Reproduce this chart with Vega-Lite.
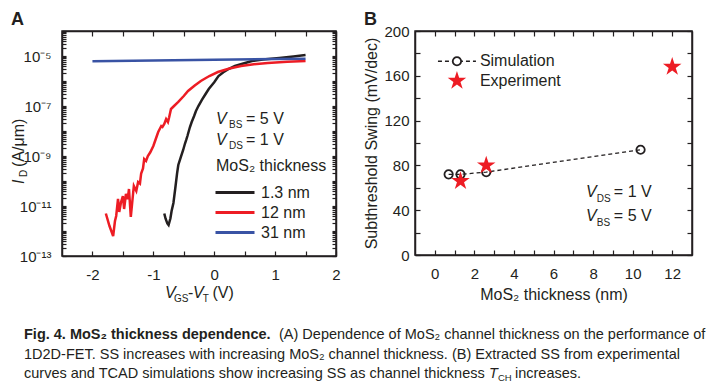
{
  "$schema": "https://vega.github.io/schema/vega-lite/v6.json",
  "padding": {"left": 10, "top": 10, "right": 0, "bottom": 0},
  "background": "white",
  "spacing": 22,
  "config": {
    "font": "Liberation Sans",
    "view": {"stroke": null},
    "axis": {"domain": true, "ticks": true, "domainColor": "#231f20", "domainWidth": 1.5, "tickColor": "#231f20", "tickWidth": 1.2, "labelColor": "#231f20", "labelFontSize": 15, "titleFontSize": 16, "titleFontWeight": "normal", "titleColor": "#231f20", "grid": false},
    "title": {"fontSize": 18, "fontWeight": "bold", "anchor": "start", "color": "#231f20", "offset": -5}
  },
  "vconcat": [
    {
      "spacing": 22,
      "hconcat": [
        {
          "title": {"text": "A"},
          "width": 274,
          "height": 225,
          "view": {"stroke": "#231f20", "strokeWidth": 1.5},
          "resolve": {"axis": {"x": "independent", "y": "independent"}},
          "layer": [
            {
              "data": {"values": [
                {"thick": "1.3 nm", "v": -0.82, "id": 5.01e-12},
                {"thick": "1.3 nm", "v": -0.8, "id": 3.16e-12},
                {"thick": "1.3 nm", "v": -0.77, "id": 2.0e-12},
                {"thick": "1.3 nm", "v": -0.75, "id": 1.74e-12},
                {"thick": "1.3 nm", "v": -0.72, "id": 3.16e-12},
                {"thick": "1.3 nm", "v": -0.7, "id": 6.31e-12},
                {"thick": "1.3 nm", "v": -0.67, "id": 1.32e-11},
                {"thick": "1.3 nm", "v": -0.64, "id": 5.01e-11},
                {"thick": "1.3 nm", "v": -0.61, "id": 2.0e-10},
                {"thick": "1.3 nm", "v": -0.59, "id": 4.37e-10},
                {"thick": "1.3 nm", "v": -0.55, "id": 8.91e-10},
                {"thick": "1.3 nm", "v": -0.51, "id": 1.74e-9},
                {"thick": "1.3 nm", "v": -0.48, "id": 3.16e-9},
                {"thick": "1.3 nm", "v": -0.46, "id": 4.37e-9},
                {"thick": "1.3 nm", "v": -0.44, "id": 6.31e-9},
                {"thick": "1.3 nm", "v": -0.4, "id": 1.41e-8},
                {"thick": "1.3 nm", "v": -0.37, "id": 2.29e-8},
                {"thick": "1.3 nm", "v": -0.33, "id": 3.98e-8},
                {"thick": "1.3 nm", "v": -0.3, "id": 6.31e-8},
                {"thick": "1.3 nm", "v": -0.26, "id": 1.0e-7},
                {"thick": "1.3 nm", "v": -0.2, "id": 1.78e-7},
                {"thick": "1.3 nm", "v": -0.15, "id": 2.82e-7},
                {"thick": "1.3 nm", "v": -0.09, "id": 4.79e-7},
                {"thick": "1.3 nm", "v": 0.0, "id": 8.91e-7},
                {"thick": "1.3 nm", "v": 0.07, "id": 1.58e-6},
                {"thick": "1.3 nm", "v": 0.15, "id": 2.24e-6},
                {"thick": "1.3 nm", "v": 0.25, "id": 3.16e-6},
                {"thick": "1.3 nm", "v": 0.34, "id": 3.98e-6},
                {"thick": "1.3 nm", "v": 0.45, "id": 4.79e-6},
                {"thick": "1.3 nm", "v": 0.62, "id": 6.31e-6},
                {"thick": "1.3 nm", "v": 0.8, "id": 7.24e-6},
                {"thick": "1.3 nm", "v": 1.07, "id": 8.32e-6},
                {"thick": "1.3 nm", "v": 1.3, "id": 9.55e-6},
                {"thick": "1.3 nm", "v": 1.5, "id": 1.1e-5},
                {"thick": "12 nm", "v": -1.78, "id": 5.01e-12},
                {"thick": "12 nm", "v": -1.72, "id": 1.58e-12},
                {"thick": "12 nm", "v": -1.66, "id": 6.31e-13},
                {"thick": "12 nm", "v": -1.63, "id": 2.51e-12},
                {"thick": "12 nm", "v": -1.61, "id": 3.98e-12},
                {"thick": "12 nm", "v": -1.58, "id": 1.91e-11},
                {"thick": "12 nm", "v": -1.56, "id": 5.75e-12},
                {"thick": "12 nm", "v": -1.53, "id": 1.45e-11},
                {"thick": "12 nm", "v": -1.5, "id": 2.51e-11},
                {"thick": "12 nm", "v": -1.48, "id": 7.59e-12},
                {"thick": "12 nm", "v": -1.45, "id": 3.02e-11},
                {"thick": "12 nm", "v": -1.42, "id": 1.91e-11},
                {"thick": "12 nm", "v": -1.4, "id": 4.79e-11},
                {"thick": "12 nm", "v": -1.37, "id": 3.63e-12},
                {"thick": "12 nm", "v": -1.33, "id": 3.63e-11},
                {"thick": "12 nm", "v": -1.32, "id": 6.31e-11},
                {"thick": "12 nm", "v": -1.28, "id": 3.98e-11},
                {"thick": "12 nm", "v": -1.25, "id": 9.12e-11},
                {"thick": "12 nm", "v": -1.22, "id": 7.94e-11},
                {"thick": "12 nm", "v": -1.2, "id": 2.0e-10},
                {"thick": "12 nm", "v": -1.17, "id": 3.16e-10},
                {"thick": "12 nm", "v": -1.15, "id": 7.59e-10},
                {"thick": "12 nm", "v": -1.12, "id": 6.31e-10},
                {"thick": "12 nm", "v": -1.09, "id": 1.0e-9},
                {"thick": "12 nm", "v": -1.05, "id": 1.41e-9},
                {"thick": "12 nm", "v": -1.0, "id": 2.51e-9},
                {"thick": "12 nm", "v": -0.96, "id": 4.79e-9},
                {"thick": "12 nm", "v": -0.92, "id": 9.12e-9},
                {"thick": "12 nm", "v": -0.87, "id": 1.58e-8},
                {"thick": "12 nm", "v": -0.85, "id": 1.45e-8},
                {"thick": "12 nm", "v": -0.82, "id": 1.91e-8},
                {"thick": "12 nm", "v": -0.79, "id": 3.02e-8},
                {"thick": "12 nm", "v": -0.76, "id": 2.29e-8},
                {"thick": "12 nm", "v": -0.74, "id": 3.55e-8},
                {"thick": "12 nm", "v": -0.71, "id": 7.59e-8},
                {"thick": "12 nm", "v": -0.66, "id": 1.0e-7},
                {"thick": "12 nm", "v": -0.59, "id": 1.45e-7},
                {"thick": "12 nm", "v": -0.5, "id": 2.51e-7},
                {"thick": "12 nm", "v": -0.43, "id": 3.98e-7},
                {"thick": "12 nm", "v": -0.32, "id": 6.61e-7},
                {"thick": "12 nm", "v": -0.22, "id": 1.0e-6},
                {"thick": "12 nm", "v": -0.08, "id": 1.58e-6},
                {"thick": "12 nm", "v": 0.06, "id": 2.29e-6},
                {"thick": "12 nm", "v": 0.25, "id": 3.16e-6},
                {"thick": "12 nm", "v": 0.44, "id": 3.98e-6},
                {"thick": "12 nm", "v": 0.65, "id": 4.68e-6},
                {"thick": "12 nm", "v": 0.88, "id": 5.25e-6},
                {"thick": "12 nm", "v": 1.2, "id": 5.89e-6},
                {"thick": "12 nm", "v": 1.5, "id": 6.31e-6},
                {"thick": "31 nm", "v": -2.0, "id": 6.17e-6},
                {"thick": "31 nm", "v": -1.0, "id": 6.61e-6},
                {"thick": "31 nm", "v": 0.0, "id": 7.08e-6},
                {"thick": "31 nm", "v": 1.0, "id": 7.59e-6},
                {"thick": "31 nm", "v": 1.5, "id": 7.76e-6}
              ]},
              "mark": {"type": "line", "strokeWidth": 2.5},
              "encoding": {
                "x": {"field": "v", "type": "quantitative", "scale": {"domain": [-2.5, 2], "nice": false, "zero": false},
                  "axis": {"orient": "bottom", "title": null, "values": [-2, -1.5, -1, -0.5, 0, 0.5, 1, 1.5, 2], "labelExpr": "datum.value % 1 == 0 ? (datum.value < 0 ? '-' : '') + format(abs(datum.value), 'd') : ''", "tickSize": -5, "labelPadding": 16, "labelFlush": false, "labelOverlap": false}},
                "y": {"field": "id", "type": "quantitative", "scale": {"type": "log", "domain": [1e-13, 1e-4], "nice": false},
                  "axis": {"orient": "left", "title": null,
                    "values": [1e-13,2e-13,3e-13,4e-13,5e-13,6e-13,7e-13,8e-13,9e-13,1e-12,2e-12,3e-12,4e-12,5e-12,6e-12,7e-12,8e-12,9e-12,1e-11,2e-11,3e-11,4e-11,5e-11,6e-11,7e-11,8e-11,9e-11,1e-10,2e-10,3e-10,4e-10,5e-10,6e-10,7e-10,8e-10,9e-10,1e-9,2e-9,3e-9,4e-9,5e-9,6e-9,7e-9,8e-9,9e-9,1e-8,2e-8,3e-8,4e-8,5e-8,6e-8,7e-8,8e-8,9e-8,1e-7,2e-7,3e-7,4e-7,5e-7,6e-7,7e-7,8e-7,9e-7,1e-6,2e-6,3e-6,4e-6,5e-6,6e-6,7e-6,8e-6,9e-6,1e-5,2e-5,3e-5,4e-5,5e-5,6e-5,7e-5,8e-5,9e-5,1e-4],
                    "labelExpr": "abs(log(datum.value)/LN10 - round(log(datum.value)/LN10)) > 0.001 ? '' : round(log(datum.value)/LN10) == -5 ? '10⁻⁵' : round(log(datum.value)/LN10) == -7 ? '10⁻⁷' : round(log(datum.value)/LN10) == -9 ? '10⁻⁹' : round(log(datum.value)/LN10) == -11 ? '10⁻¹¹' : round(log(datum.value)/LN10) == -13 ? '10⁻¹³' : ''",
                    "tickSize": -4, "labelPadding": 15, "labelOverlap": false}},
                "color": {"field": "thick", "type": "nominal",
                  "scale": {"domain": ["1.3 nm", "12 nm", "31 nm"], "range": ["#231f20", "#ed1c24", "#3953a4"]},
                  "legend": {"orient": "none", "legendX": 171, "legendY": 150, "title": null, "labelFontSize": 16, "labelColor": "#231f20", "symbolType": "M-2.9,0H1", "symbolSize": 400, "symbolStrokeWidth": 3, "rowPadding": 0, "labelOffset": 5, "padding": 0}}
              }
            },
            {
              "data": {"values": [
                {"px": 0.03, "py": 1.91e-8, "txt": "V"},
                {"px": 0.03, "py": 2.75e-9, "txt": "V"},
                {"px": -0.808, "py": 2.09e-15, "txt": "V"},
                {"px": -0.35, "py": 2.09e-15, "txt": "V"}
              ]},
              "mark": {"type": "text", "fontStyle": "italic", "fontSize": 16, "align": "left", "baseline": "alphabetic", "color": "#231f20"},
              "encoding": {
                "x": {"field": "px", "type": "quantitative", "scale": {"domain": [-2.5, 2], "nice": false, "zero": false},
                  "axis": {"orient": "top", "title": null, "values": [-2, -1.5, -1, -0.5, 0, 0.5, 1, 1.5, 2], "labels": false, "tickSize": -5}},
                "y": {"field": "py", "type": "quantitative", "scale": {"type": "log", "domain": [1e-13, 1e-4], "nice": false},
                  "axis": {"orient": "right", "title": null, "labels": false,
                    "values": [1e-13,2e-13,3e-13,4e-13,5e-13,6e-13,7e-13,8e-13,9e-13,1e-12,2e-12,3e-12,4e-12,5e-12,6e-12,7e-12,8e-12,9e-12,1e-11,2e-11,3e-11,4e-11,5e-11,6e-11,7e-11,8e-11,9e-11,1e-10,2e-10,3e-10,4e-10,5e-10,6e-10,7e-10,8e-10,9e-10,1e-9,2e-9,3e-9,4e-9,5e-9,6e-9,7e-9,8e-9,9e-9,1e-8,2e-8,3e-8,4e-8,5e-8,6e-8,7e-8,8e-8,9e-8,1e-7,2e-7,3e-7,4e-7,5e-7,6e-7,7e-7,8e-7,9e-7,1e-6,2e-6,3e-6,4e-6,5e-6,6e-6,7e-6,8e-6,9e-6,1e-5,2e-5,3e-5,4e-5,5e-5,6e-5,7e-5,8e-5,9e-5,1e-4],
                    "tickSize": -4}},
                "text": {"field": "txt", "type": "nominal"}
              }
            },
            {
              "data": {"values": [
                {"px": 0.243, "py": 1.32e-8, "txt": "BS"},
                {"px": 0.243, "py": 1.91e-9, "txt": "DS"},
                {"px": -0.661, "py": 1.45e-15, "txt": "GS"},
                {"px": -0.19, "py": 1.45e-15, "txt": "T"}
              ]},
              "mark": {"type": "text", "fontSize": 10, "align": "left", "baseline": "alphabetic", "color": "#231f20"},
              "encoding": {
                "x": {"field": "px", "type": "quantitative", "scale": {"domain": [-2.5, 2], "nice": false, "zero": false}, "axis": null},
                "y": {"field": "py", "type": "quantitative", "scale": {"type": "log", "domain": [1e-13, 1e-4], "nice": false}, "axis": null},
                "text": {"field": "txt", "type": "nominal"}
              }
            },
            {
              "data": {"values": [
                {"px": 0.522, "py": 1.91e-8, "txt": "= 5 V"},
                {"px": 0.522, "py": 2.75e-9, "txt": "= 1 V"},
                {"px": 0.029, "py": 2.51e-10, "txt": "MoS₂ thickness"},
                {"px": -0.43, "py": 2.09e-15, "txt": "-"},
                {"px": -0.03, "py": 2.09e-15, "txt": "(V)"}
              ]},
              "mark": {"type": "text", "fontSize": 16, "align": "left", "baseline": "alphabetic", "color": "#231f20"},
              "encoding": {
                "x": {"field": "px", "type": "quantitative", "scale": {"domain": [-2.5, 2], "nice": false, "zero": false}, "axis": null},
                "y": {"field": "py", "type": "quantitative", "scale": {"type": "log", "domain": [1e-13, 1e-4], "nice": false}, "axis": null},
                "text": {"field": "txt", "type": "nominal"}
              }
            },
            {
              "data": {"values": [{"px": -3.124, "py": 7.59e-11, "txt": "I"}]},
              "mark": {"type": "text", "fontSize": 16, "fontStyle": "italic", "angle": 270, "align": "left", "baseline": "alphabetic", "color": "#231f20"},
              "encoding": {
                "x": {"field": "px", "type": "quantitative", "scale": {"domain": [-2.5, 2], "nice": false, "zero": false}, "axis": null},
                "y": {"field": "py", "type": "quantitative", "scale": {"type": "log", "domain": [1e-13, 1e-4], "nice": false}, "axis": null},
                "text": {"field": "txt", "type": "nominal"}
              }
            },
            {
              "data": {"values": [{"px": -3.075, "py": 1.45e-10, "txt": "D"}]},
              "mark": {"type": "text", "fontSize": 10, "angle": 270, "align": "left", "baseline": "alphabetic", "color": "#231f20"},
              "encoding": {
                "x": {"field": "px", "type": "quantitative", "scale": {"domain": [-2.5, 2], "nice": false, "zero": false}, "axis": null},
                "y": {"field": "py", "type": "quantitative", "scale": {"type": "log", "domain": [1e-13, 1e-4], "nice": false}, "axis": null},
                "text": {"field": "txt", "type": "nominal"}
              }
            },
            {
              "data": {"values": [{"px": -3.124, "py": 3.63e-10, "txt": "(A/μm)"}]},
              "mark": {"type": "text", "fontSize": 16, "angle": 270, "align": "left", "baseline": "alphabetic", "color": "#231f20"},
              "encoding": {
                "x": {"field": "px", "type": "quantitative", "scale": {"domain": [-2.5, 2], "nice": false, "zero": false}, "axis": null},
                "y": {"field": "py", "type": "quantitative", "scale": {"type": "log", "domain": [1e-13, 1e-4], "nice": false}, "axis": null},
                "text": {"field": "txt", "type": "nominal"}
              }
            }
          ]
        },
        {
          "title": {"text": "B"},
          "width": 277,
          "height": 224,
          "view": {"stroke": "#231f20", "strokeWidth": 1.5},
          "resolve": {"axis": {"x": "independent", "y": "independent"}},
          "layer": [
            {
              "data": {"values": [
                {"t": 0.7, "ss": 72}, {"t": 1.3, "ss": 72}, {"t": 2.6, "ss": 74}, {"t": 10.4, "ss": 94}
              ]},
              "mark": {"type": "line", "strokeDash": [4, 3], "strokeWidth": 1.3, "color": "#231f20"},
              "encoding": {
                "x": {"field": "t", "type": "quantitative", "scale": {"domain": [-1, 13], "nice": false, "zero": false},
                  "axis": {"orient": "bottom", "title": "MoS₂ thickness (nm)", "titlePadding": 5, "values": [0,1,2,3,4,5,6,7,8,9,10,11,12], "labelExpr": "datum.value % 2 == 0 ? datum.label : ''", "tickSize": -5, "labelPadding": 16, "labelFlush": false, "labelOverlap": false}},
                "y": {"field": "ss", "type": "quantitative", "scale": {"domain": [0, 200], "nice": false},
                  "axis": {"orient": "left", "title": "Subthreshold Swing (mV/dec)", "titlePadding": 4, "values": [0,20,40,60,80,100,120,140,160,180,200], "labelExpr": "datum.value % 40 == 0 ? datum.label : ''", "tickSize": -5, "labelPadding": 11, "labelOverlap": false}}
              }
            },
            {
              "data": {"values": [
                {"t": 0.7, "ss": 72}, {"t": 1.3, "ss": 72}, {"t": 2.6, "ss": 74}, {"t": 10.4, "ss": 94}
              ]},
              "mark": {"type": "point", "filled": false, "size": 70, "strokeWidth": 1.8, "color": "#231f20", "opacity": 1},
              "encoding": {
                "x": {"field": "t", "type": "quantitative", "scale": {"domain": [-1, 13], "nice": false, "zero": false},
                  "axis": {"orient": "top", "title": null, "labels": false, "values": [0,1,2,3,4,5,6,7,8,9,10,11,12], "tickSize": -5}},
                "y": {"field": "ss", "type": "quantitative", "scale": {"domain": [0, 200], "nice": false},
                  "axis": {"orient": "right", "title": null, "labels": false, "values": [0,20,40,60,80,100,120,140,160,180,200], "tickSize": -5}}
              }
            },
            {
              "data": {"values": [
                {"t": 1.3, "ss": 66}, {"t": 2.6, "ss": 80}, {"t": 12, "ss": 168}
              ]},
              "mark": {"type": "point", "shape": "M0,-1L0.2245,-0.309L0.951,-0.309L0.363,0.118L0.588,0.809L0,0.382L-0.588,0.809L-0.363,0.118L-0.951,-0.309L-0.2245,-0.309Z", "filled": true, "size": 380, "color": "#ed1c24", "opacity": 1},
              "encoding": {
                "x": {"field": "t", "type": "quantitative", "scale": {"domain": [-1, 13], "nice": false, "zero": false}, "axis": null},
                "y": {"field": "ss", "type": "quantitative", "scale": {"domain": [0, 200], "nice": false}, "axis": null}
              }
            },
            {
              "data": {"values": [{"t": 0.16, "ss": 173}, {"t": 2.08, "ss": 173}]},
              "mark": {"type": "line", "strokeDash": [4, 3], "strokeWidth": 1.3, "color": "#231f20"},
              "encoding": {
                "x": {"field": "t", "type": "quantitative", "scale": {"domain": [-1, 13], "nice": false, "zero": false}, "axis": null},
                "y": {"field": "ss", "type": "quantitative", "scale": {"domain": [0, 200], "nice": false}, "axis": null}
              }
            },
            {
              "data": {"values": [{"t": 1.12, "ss": 173}]},
              "mark": {"type": "point", "filled": true, "size": 70, "strokeWidth": 1.8, "fill": "white", "stroke": "#231f20", "opacity": 1},
              "encoding": {
                "x": {"field": "t", "type": "quantitative", "scale": {"domain": [-1, 13], "nice": false, "zero": false}, "axis": null},
                "y": {"field": "ss", "type": "quantitative", "scale": {"domain": [0, 200], "nice": false}, "axis": null}
              }
            },
            {
              "data": {"values": [{"t": 1.12, "ss": 155.5}]},
              "mark": {"type": "point", "shape": "M0,-1L0.2245,-0.309L0.951,-0.309L0.363,0.118L0.588,0.809L0,0.382L-0.588,0.809L-0.363,0.118L-0.951,-0.309L-0.2245,-0.309Z", "filled": true, "size": 380, "color": "#ed1c24", "opacity": 1},
              "encoding": {
                "x": {"field": "t", "type": "quantitative", "scale": {"domain": [-1, 13], "nice": false, "zero": false}, "axis": null},
                "y": {"field": "ss", "type": "quantitative", "scale": {"domain": [0, 200], "nice": false}, "axis": null}
              }
            },
            {
              "data": {"values": [{"t": 2.28, "ss": 173, "txt": "Simulation"}, {"t": 2.28, "ss": 155.5, "txt": "Experiment"}]},
              "mark": {"type": "text", "fontSize": 16, "align": "left", "baseline": "middle", "color": "#231f20"},
              "encoding": {
                "x": {"field": "t", "type": "quantitative", "scale": {"domain": [-1, 13], "nice": false, "zero": false}, "axis": null},
                "y": {"field": "ss", "type": "quantitative", "scale": {"domain": [0, 200], "nice": false}, "axis": null},
                "text": {"field": "txt", "type": "nominal"}
              }
            },
            {
              "data": {"values": [{"t": 7.64, "ss": 51.8, "txt": "V"}, {"t": 7.64, "ss": 30.4, "txt": "V"}]},
              "mark": {"type": "text", "fontSize": 16, "fontStyle": "italic", "align": "left", "baseline": "alphabetic", "color": "#231f20"},
              "encoding": {
                "x": {"field": "t", "type": "quantitative", "scale": {"domain": [-1, 13], "nice": false, "zero": false}, "axis": null},
                "y": {"field": "ss", "type": "quantitative", "scale": {"domain": [0, 200], "nice": false}, "axis": null},
                "text": {"field": "txt", "type": "nominal"}
              }
            },
            {
              "data": {"values": [{"t": 8.19, "ss": 47.3, "txt": "DS"}, {"t": 8.19, "ss": 25.9, "txt": "BS"}]},
              "mark": {"type": "text", "fontSize": 10, "align": "left", "baseline": "alphabetic", "color": "#231f20"},
              "encoding": {
                "x": {"field": "t", "type": "quantitative", "scale": {"domain": [-1, 13], "nice": false, "zero": false}, "axis": null},
                "y": {"field": "ss", "type": "quantitative", "scale": {"domain": [0, 200], "nice": false}, "axis": null},
                "text": {"field": "txt", "type": "nominal"}
              }
            },
            {
              "data": {"values": [{"t": 9.05, "ss": 51.8, "txt": "= 1 V"}, {"t": 9.05, "ss": 30.4, "txt": "= 5 V"}]},
              "mark": {"type": "text", "fontSize": 16, "align": "left", "baseline": "alphabetic", "color": "#231f20"},
              "encoding": {
                "x": {"field": "t", "type": "quantitative", "scale": {"domain": [-1, 13], "nice": false, "zero": false}, "axis": null},
                "y": {"field": "ss", "type": "quantitative", "scale": {"domain": [0, 200], "nice": false}, "axis": null},
                "text": {"field": "txt", "type": "nominal"}
              }
            }
          ]
        }
      ]
    },
    {
      "width": 715,
      "height": 39,
      "layer": [
        {
          "data": {"values": [{"c": 0, "ln": 1, "txt": "Fig. 4. MoS₂ thickness dependence."}]},
          "mark": {"type": "text", "fontSize": 14.5, "fontWeight": "bold", "align": "left", "baseline": "middle", "dx": -38, "color": "#231f20"},
          "encoding": {
            "x": {"field": "c", "type": "quantitative", "scale": {"domain": [0, 1]}, "axis": null},
            "y": {"field": "ln", "type": "quantitative", "scale": {"domain": [1, 3], "reverse": true}, "axis": null},
            "text": {"field": "txt", "type": "nominal"}
          }
        },
        {
          "data": {"values": [{"c": 0, "ln": 1, "txt": "(A) Dependence of MoS₂ channel thickness on the performance of"}]},
          "mark": {"type": "text", "fontSize": 14.5, "align": "left", "baseline": "middle", "dx": 217, "color": "#231f20"},
          "encoding": {
            "x": {"field": "c", "type": "quantitative", "scale": {"domain": [0, 1]}, "axis": null},
            "y": {"field": "ln", "type": "quantitative", "scale": {"domain": [1, 3], "reverse": true}, "axis": null},
            "text": {"field": "txt", "type": "nominal"}
          }
        },
        {
          "data": {"values": [
            {"c": 0, "ln": 2, "txt": "1D2D-FET. SS increases with increasing MoS₂ channel thickness. (B) Extracted SS from experimental"},
            {"c": 0, "ln": 3, "txt": "curves and TCAD simulations show increasing SS as channel thickness"}
          ]},
          "mark": {"type": "text", "fontSize": 14.5, "align": "left", "baseline": "middle", "dx": -38, "color": "#231f20"},
          "encoding": {
            "x": {"field": "c", "type": "quantitative", "scale": {"domain": [0, 1]}, "axis": null},
            "y": {"field": "ln", "type": "quantitative", "scale": {"domain": [1, 3], "reverse": true}, "axis": null},
            "text": {"field": "txt", "type": "nominal"}
          }
        },
        {
          "data": {"values": [{"c": 0, "ln": 3, "txt": "T"}]},
          "mark": {"type": "text", "fontSize": 14.5, "fontStyle": "italic", "align": "left", "baseline": "middle", "dx": 427, "color": "#231f20"},
          "encoding": {
            "x": {"field": "c", "type": "quantitative", "scale": {"domain": [0, 1]}, "axis": null},
            "y": {"field": "ln", "type": "quantitative", "scale": {"domain": [1, 3], "reverse": true}, "axis": null},
            "text": {"field": "txt", "type": "nominal"}
          }
        },
        {
          "data": {"values": [{"c": 0, "ln": 3, "txt": "CH"}]},
          "mark": {"type": "text", "fontSize": 9.5, "align": "left", "baseline": "middle", "dx": 436, "dy": 4, "color": "#231f20"},
          "encoding": {
            "x": {"field": "c", "type": "quantitative", "scale": {"domain": [0, 1]}, "axis": null},
            "y": {"field": "ln", "type": "quantitative", "scale": {"domain": [1, 3], "reverse": true}, "axis": null},
            "text": {"field": "txt", "type": "nominal"}
          }
        },
        {
          "data": {"values": [{"c": 0, "ln": 3, "txt": "increases."}]},
          "mark": {"type": "text", "fontSize": 14.5, "align": "left", "baseline": "middle", "dx": 453, "color": "#231f20"},
          "encoding": {
            "x": {"field": "c", "type": "quantitative", "scale": {"domain": [0, 1]}, "axis": null},
            "y": {"field": "ln", "type": "quantitative", "scale": {"domain": [1, 3], "reverse": true}, "axis": null},
            "text": {"field": "txt", "type": "nominal"}
          }
        }
      ]
    }
  ]
}
